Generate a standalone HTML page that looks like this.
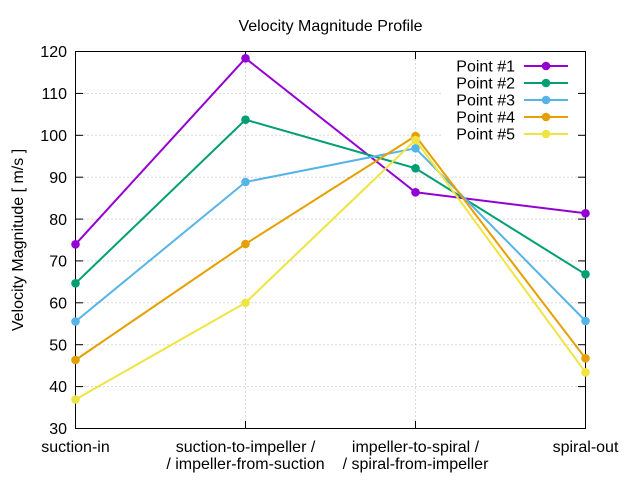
<!DOCTYPE html>
<html><head><meta charset="utf-8"><style>
html,body{margin:0;padding:0;background:#fff;}
svg{display:block;}
text{font-family:"Liberation Sans",Arial,sans-serif;font-size:16px;fill:#000;}
</style></head><body>
<svg width="640" height="480" viewBox="0 0 640 480" xmlns="http://www.w3.org/2000/svg">
<rect width="640" height="480" fill="#fff"/>
<!-- grid -->
<g stroke="#b0b0b0" stroke-width="1" stroke-dasharray="1,3" fill="none">
<line x1="75.5" y1="93.4" x2="585.5" y2="93.4"/>
<line x1="75.5" y1="135.3" x2="585.5" y2="135.3"/>
<line x1="75.5" y1="177.2" x2="585.5" y2="177.2"/>
<line x1="75.5" y1="219.1" x2="585.5" y2="219.1"/>
<line x1="75.5" y1="260.9" x2="585.5" y2="260.9"/>
<line x1="75.5" y1="302.8" x2="585.5" y2="302.8"/>
<line x1="75.5" y1="344.7" x2="585.5" y2="344.7"/>
<line x1="75.5" y1="386.6" x2="585.5" y2="386.6"/>
<line x1="245.5" y1="51.5" x2="245.5" y2="428.5"/>
<line x1="415.5" y1="51.5" x2="415.5" y2="428.5"/>
</g>
<!-- legend background -->
<rect x="443" y="56" width="134" height="88" fill="#fff"/>
<!-- ticks -->
<g stroke="#000" stroke-width="1">
<line x1="75.5" y1="93.4" x2="83" y2="93.4"/><line x1="585.5" y1="93.4" x2="578" y2="93.4"/>
<line x1="75.5" y1="135.3" x2="83" y2="135.3"/><line x1="585.5" y1="135.3" x2="578" y2="135.3"/>
<line x1="75.5" y1="177.2" x2="83" y2="177.2"/><line x1="585.5" y1="177.2" x2="578" y2="177.2"/>
<line x1="75.5" y1="219.1" x2="83" y2="219.1"/><line x1="585.5" y1="219.1" x2="578" y2="219.1"/>
<line x1="75.5" y1="260.9" x2="83" y2="260.9"/><line x1="585.5" y1="260.9" x2="578" y2="260.9"/>
<line x1="75.5" y1="302.8" x2="83" y2="302.8"/><line x1="585.5" y1="302.8" x2="578" y2="302.8"/>
<line x1="75.5" y1="344.7" x2="83" y2="344.7"/><line x1="585.5" y1="344.7" x2="578" y2="344.7"/>
<line x1="75.5" y1="386.6" x2="83" y2="386.6"/><line x1="585.5" y1="386.6" x2="578" y2="386.6"/>
<line x1="245.5" y1="51.5" x2="245.5" y2="59"/><line x1="245.5" y1="428.5" x2="245.5" y2="421"/>
<line x1="415.5" y1="51.5" x2="415.5" y2="59"/><line x1="415.5" y1="428.5" x2="415.5" y2="421"/>
</g>
<!-- border -->
<rect x="75.5" y="51.5" width="510" height="377" fill="none" stroke="#000" stroke-width="1"/>
<!-- y tick labels -->
<g text-anchor="end">
<text x="67" y="57">120</text>
<text x="67" y="99">110</text>
<text x="67" y="141">100</text>
<text x="67" y="183">90</text>
<text x="67" y="225">80</text>
<text x="67" y="266.5">70</text>
<text x="67" y="308.5">60</text>
<text x="67" y="350.5">50</text>
<text x="67" y="392">40</text>
<text x="67" y="434">30</text>
</g>
<!-- x tick labels -->
<g text-anchor="middle">
<text x="75.5" y="452">suction-in</text>
<text x="245.5" y="452">suction-to-impeller /</text>
<text x="245.5" y="469">/ impeller-from-suction</text>
<text x="415.5" y="452">impeller-to-spiral /</text>
<text x="415.5" y="469">/ spiral-from-impeller</text>
<text x="585.5" y="452">spiral-out</text>
</g>
<!-- title & axis label -->
<text x="330.5" y="31" text-anchor="middle">Velocity Magnitude Profile</text>
<text transform="translate(23,240) rotate(-90)" text-anchor="middle">Velocity Magnitude [ m/s ]</text>
<!-- series -->
<g fill="none" stroke-width="2" stroke-linejoin="round">
<polyline stroke="#9400d3" points="75.5,244.3 245.5,58.3 415.5,192.3 585.5,213.3"/>
</g>
<g fill="#9400d3"><circle cx="75.5" cy="244.3" r="4.3"/><circle cx="245.5" cy="58.3" r="4.3"/><circle cx="415.5" cy="192.3" r="4.3"/><circle cx="585.5" cy="213.3" r="4.3"/></g>
<polyline fill="none" stroke-width="2" stroke="#009e73" points="75.5,283.3 245.5,119.7 415.5,168.3 585.5,274.3"/>
<g fill="#009e73"><circle cx="75.5" cy="283.3" r="4.3"/><circle cx="245.5" cy="119.7" r="4.3"/><circle cx="415.5" cy="168.3" r="4.3"/><circle cx="585.5" cy="274.3" r="4.3"/></g>
<polyline fill="none" stroke-width="2" stroke="#56b4e9" points="75.5,321.5 245.5,182 415.5,148.3 585.5,321"/>
<g fill="#56b4e9"><circle cx="75.5" cy="321.5" r="4.3"/><circle cx="245.5" cy="182" r="4.3"/><circle cx="415.5" cy="148.3" r="4.3"/><circle cx="585.5" cy="321" r="4.3"/></g>
<polyline fill="none" stroke-width="2" stroke="#e69f00" points="75.5,360 245.5,244 415.5,136 585.5,358.3"/>
<g fill="#e69f00"><circle cx="75.5" cy="360" r="4.3"/><circle cx="245.5" cy="244" r="4.3"/><circle cx="415.5" cy="136" r="4.3"/><circle cx="585.5" cy="358.3" r="4.3"/></g>
<polyline fill="none" stroke-width="2" stroke="#f0e442" points="75.5,399.5 245.5,302.7 415.5,140 585.5,372.3"/>
<g fill="#f0e442"><circle cx="75.5" cy="399.5" r="4.3"/><circle cx="245.5" cy="302.7" r="4.3"/><circle cx="415.5" cy="140" r="4.3"/><circle cx="585.5" cy="372.3" r="4.3"/></g>
<!-- legend -->
<g text-anchor="end">
<text x="515" y="71.5">Point #1</text>
<text x="515" y="88.5">Point #2</text>
<text x="515" y="105.5">Point #3</text>
<text x="515" y="122.5">Point #4</text>
<text x="515" y="139.5">Point #5</text>
</g>
<g stroke-width="2">
<line x1="524" y1="66" x2="568" y2="66" stroke="#9400d3"/>
<line x1="524" y1="83" x2="568" y2="83" stroke="#009e73"/>
<line x1="524" y1="100" x2="568" y2="100" stroke="#56b4e9"/>
<line x1="524" y1="117" x2="568" y2="117" stroke="#e69f00"/>
<line x1="524" y1="134" x2="568" y2="134" stroke="#f0e442"/>
</g>
<circle cx="546" cy="66" r="4.3" fill="#9400d3"/>
<circle cx="546" cy="83" r="4.3" fill="#009e73"/>
<circle cx="546" cy="100" r="4.3" fill="#56b4e9"/>
<circle cx="546" cy="117" r="4.3" fill="#e69f00"/>
<circle cx="546" cy="134" r="4.3" fill="#f0e442"/>
</svg>
</body></html>
